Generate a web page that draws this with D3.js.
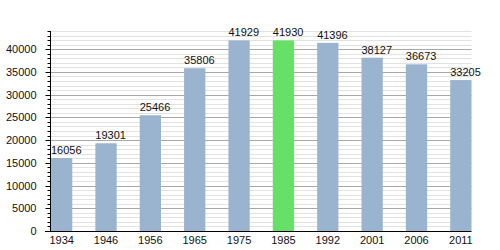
<!DOCTYPE html>
<html><head><meta charset="utf-8">
<script src="https://cdn.jsdelivr.net/npm/d3@7"></script>
<style>body{margin:0;background:#fff}svg{display:block}text{font-family:"Liberation Sans",Arial,sans-serif}</style>
</head><body><svg id="c" width="500" height="250"></svg>
<script>
const years = ["1934","1946","1956","1965","1975","1985","1992","2001","2006","2011"];
const population = [16056,19301,25466,35806,41929,41930,41396,38127,36673,33205];
const highlightYear = "1985";
const yTicks = [0,5000,10000,15000,20000,25000,30000,35000,40000];

const svg = d3.select("#c");
const x0 = 50, xEnd = 471.5, yBase = 231, yTopVal = 44000, yTop = 31;
const x = d3.scaleBand().domain(years).range([51, 471.5]).paddingInner(0.52).paddingOuter(0);
const y = d3.scaleLinear().domain([0, yTopVal]).range([yBase, yTop]);

const minor = d3.range(0, yTopVal + 1, 1000).filter(v => v % 5000 !== 0);
// minor gridlines
svg.append("g").selectAll("line").data(minor).join("line")
  .attr("x1", x0).attr("x2", xEnd).attr("y1", d => Math.round(y(d)) + 0.5).attr("y2", d => Math.round(y(d)) + 0.5)
  .attr("stroke", "#e2e2e2").attr("stroke-width", 1);
// major gridlines
svg.append("g").selectAll("line").data(yTicks.filter(d => d > 0)).join("line")
  .attr("x1", x0).attr("x2", xEnd).attr("y1", d => Math.round(y(d)) + 0.5).attr("y2", d => Math.round(y(d)) + 0.5)
  .attr("stroke", "#a8a8a8").attr("stroke-width", 1);

// bars
svg.append("g").selectAll("rect").data(years).join("rect")
  .attr("x", d => x(d)).attr("width", x.bandwidth())
  .attr("y", (d, i) => y(population[i])).attr("height", (d, i) => yBase - y(population[i]))
  .attr("fill", d => d === highlightYear ? "#66e066" : "#9ab3cf");

// value labels
svg.append("g").selectAll("text").data(years).join("text")
  .attr("x", d => x(d)).attr("y", (d, i) => y(population[i]) - 4)
  .attr("font-size", 11).attr("fill", "#111")
  .text((d, i) => population[i]);

// y axis
const yAxis = d3.axisLeft(y).tickValues(yTicks).tickSize(5).tickPadding(9).tickFormat(d3.format("d"));
const gy = svg.append("g").attr("transform", `translate(${x0 + 0.5},0)`).call(yAxis);
gy.select(".domain").remove();
gy.selectAll("text").attr("font-size", 11).attr("fill", "#111").style("font-family", '"Liberation Sans",Arial,sans-serif');
gy.selectAll("line").attr("stroke", "#000");
gy.append("g").selectAll("line").data(minor).join("line")
  .attr("x1", -3).attr("x2", 0).attr("y1", d => Math.round(y(d)) + 0.5 - 0).attr("y2", d => Math.round(y(d)) + 0.5)
  .attr("stroke", "#000");
gy.selectAll(".tick").attr("transform", d => `translate(0,${Math.round(y(d)) + 0.5})`);
svg.append("line").attr("x1", x0 + 0.5).attr("x2", x0 + 0.5).attr("y1", yTop).attr("y2", yBase).attr("stroke", "#000");

// x axis
const gx = svg.append("g").attr("transform", `translate(0,${yBase + 0.5})`)
  .call(d3.axisBottom(x).tickSize(0).tickPadding(5));
gx.select(".domain").remove();
gx.selectAll("text").attr("font-size", 11).attr("fill", "#111").style("font-family", '"Liberation Sans",Arial,sans-serif');
svg.append("line").attr("x1", 45).attr("x2", xEnd).attr("y1", yBase + 0.5).attr("y2", yBase + 0.5).attr("stroke", "#000");
</script></body></html>
